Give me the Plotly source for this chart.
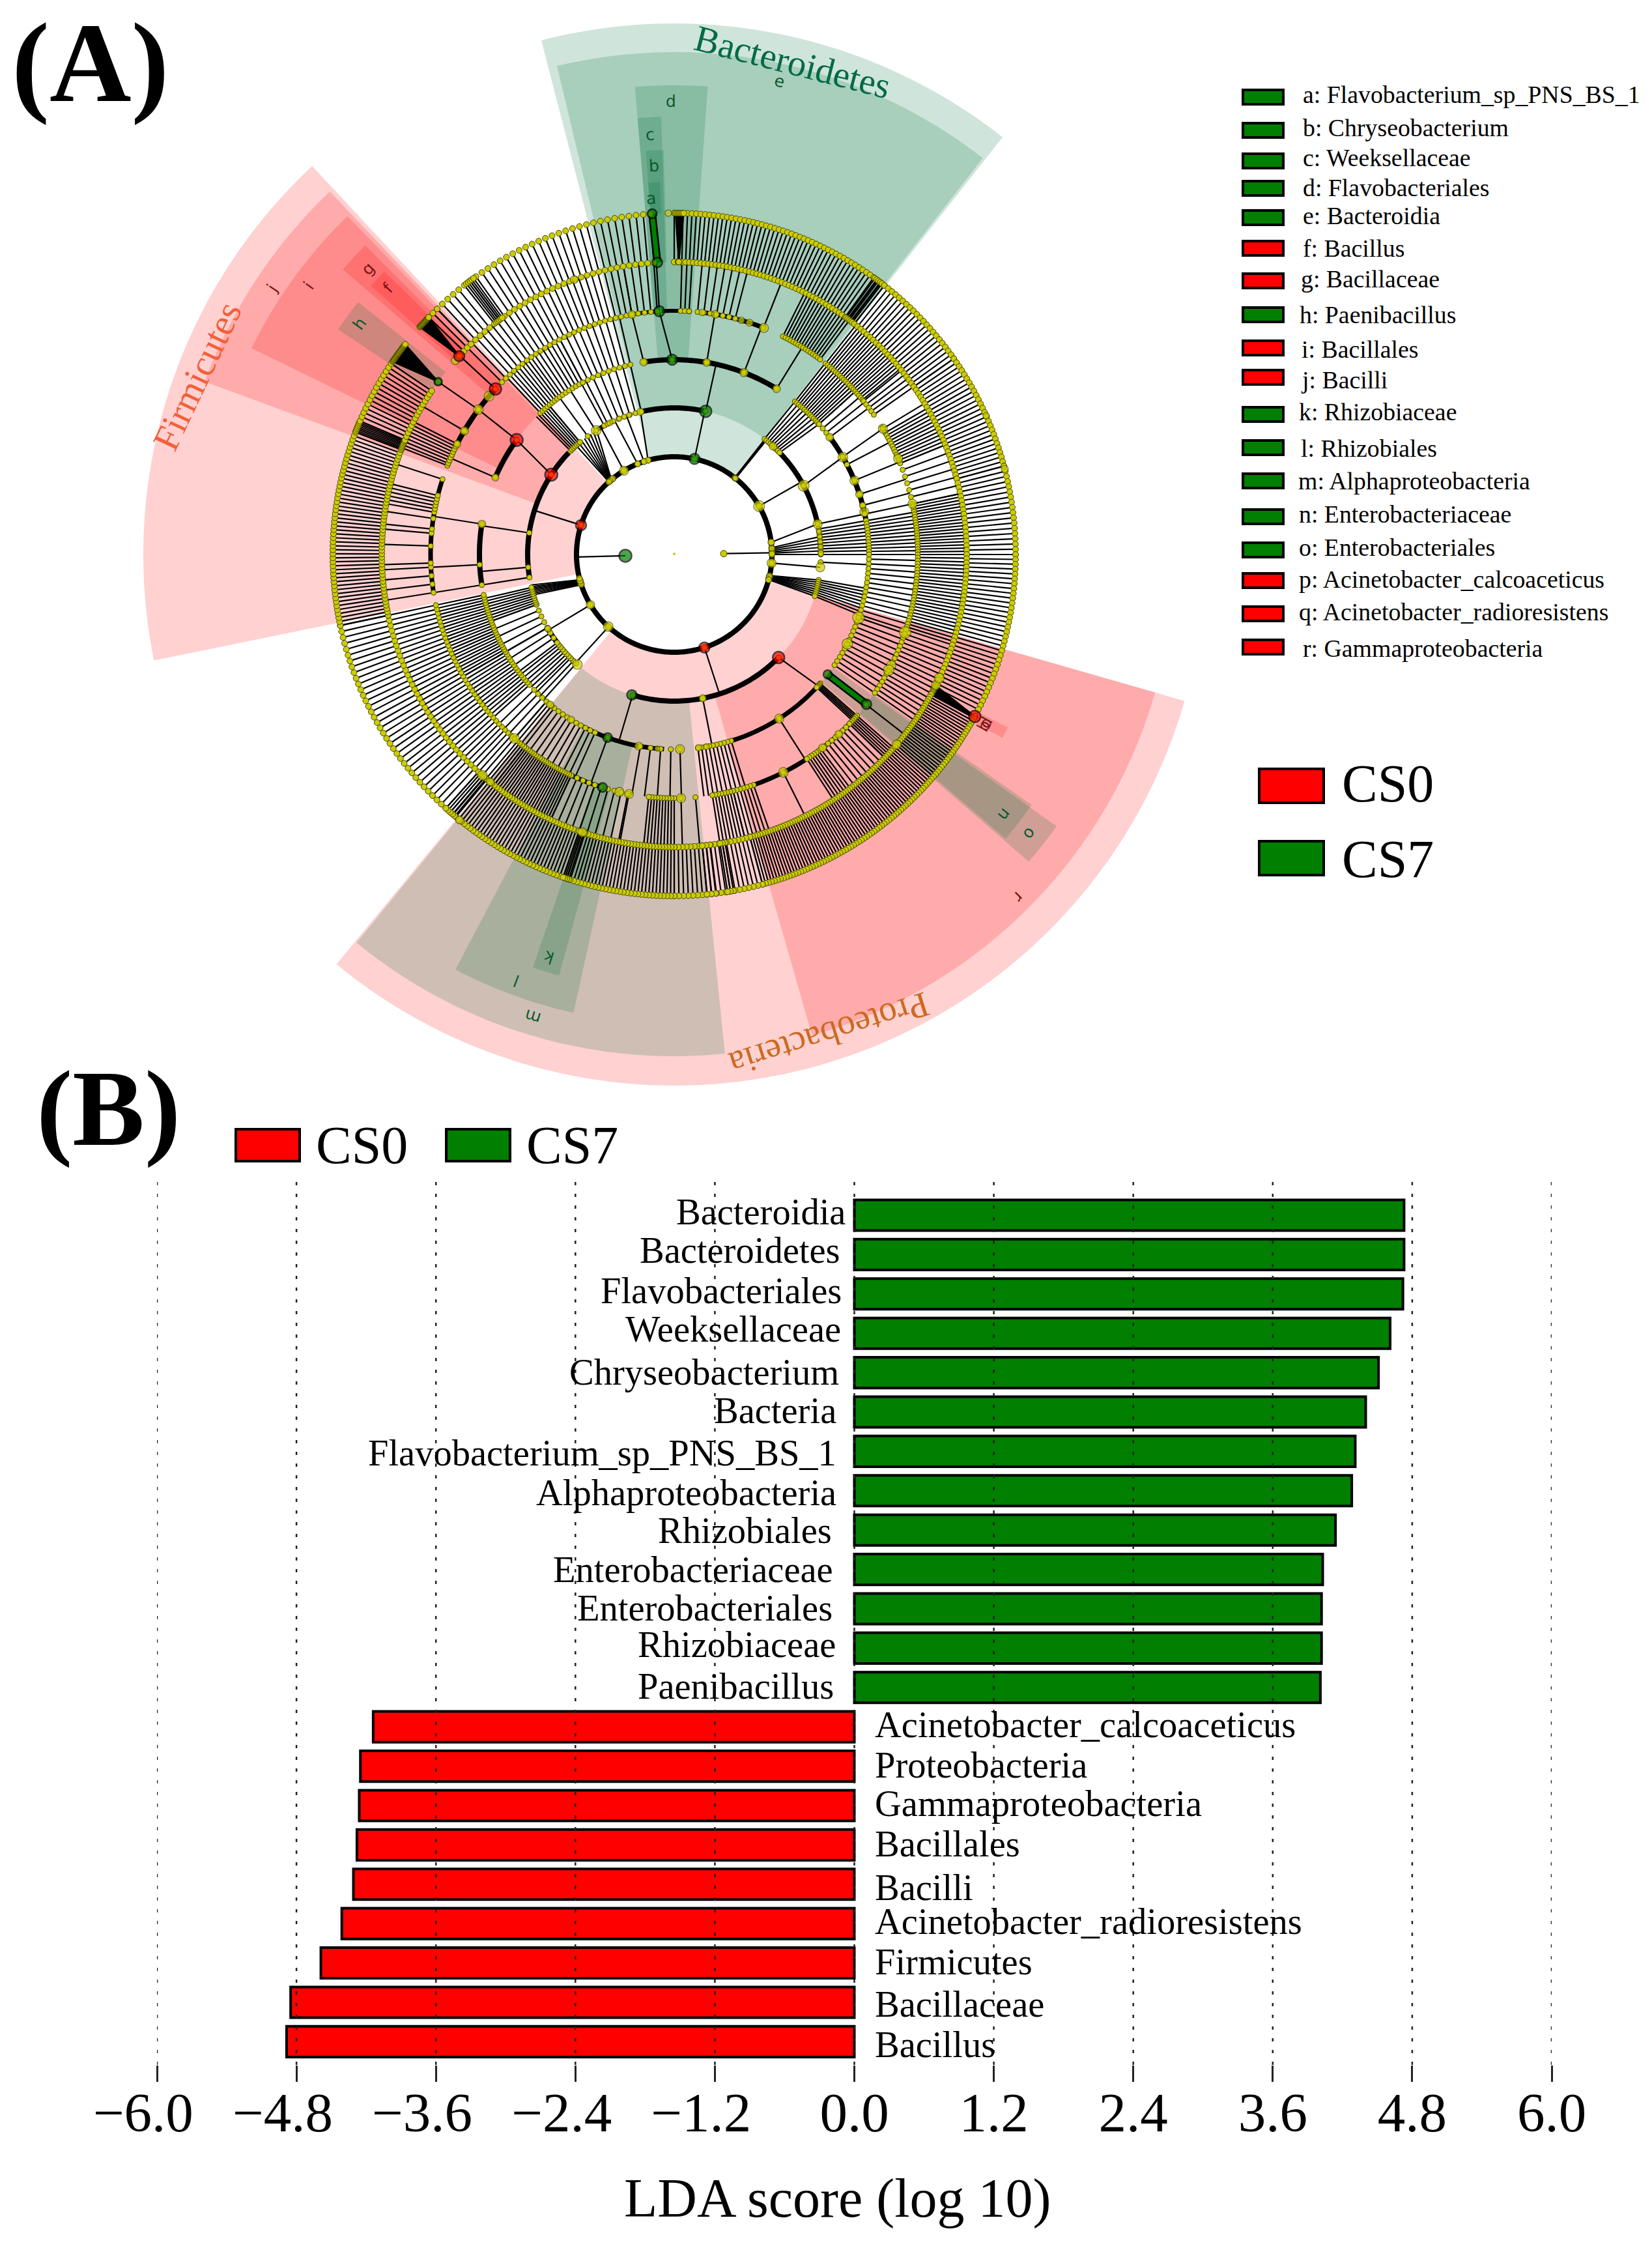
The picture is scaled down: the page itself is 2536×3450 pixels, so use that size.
import numpy as np
import plotly.graph_objects as go

W, H = 2536, 3450
SERIF = "Liberation Serif"
RED, GREEN = "#FF0000", "#007F00"

# ---------- panel B data ----------
taxa_cs7 = ["Bacteroidia", "Bacteroidetes", "Flavobacteriales", "Weeksellaceae", "Chryseobacterium",
            "Bacteria", "Flavobacterium_sp_PNS_BS_1", "Alphaproteobacteria", "Rhizobiales",
            "Enterobacteriaceae", "Enterobacteriales", "Rhizobiaceae", "Paenibacillus"]
lda_cs7 = [4.73, 4.73, 4.72, 4.61, 4.51, 4.40, 4.31, 4.28, 4.14, 4.03, 4.02, 4.02, 4.01]
taxa_cs0 = ["Acinetobacter_calcoaceticus", "Proteobacteria", "Gammaproteobacteria", "Bacillales", "Bacilli",
            "Acinetobacter_radioresistens", "Firmicutes", "Bacillaceae", "Bacillus"]
lda_cs0 = [-4.14, -4.25, -4.26, -4.28, -4.31, -4.41, -4.59, -4.85, -4.885]
tick_values = [-6.0, -4.8, -3.6, -2.4, -1.2, 0.0, 1.2, 2.4, 3.6, 4.8, 6.0]
tick_labels = ["\u22126.0\u2002", "\u22124.8\u2002", "\u22123.6\u2002", "\u22122.4\u2002", "\u22121.2\u2002",
               "0.0", "1.2", "2.4", "3.6", "4.8", "6.0"]

# hand placement of the labels in the original figure (px from the zero line / row centre)
label_dx_cs7 = [-12, -21, -18, -19, -22, -25.5, -25.5, -25.5, -33, -30.4, -32, -27, -30]
label_dy_cs7 = [-5, -6.4, -4.8, -5.7, -0.6, -2, 2.6, 3.2, 0.8, 0.4, -1, -5.4, -1.8]
label_dy_cs0 = [-3.2, -1.6, -3, -1.4, 5.2, -3.2, -1.6, 3, 4.6]

# ---------- panel A legend ----------
clade_letters = list("abcdefghijklmnopqr")
clade_names = ["Flavobacterium_sp_PNS_BS_1", "Chryseobacterium", "Weeksellaceae", "Flavobacteriales", "Bacteroidia",
               "Bacillus", "Bacillaceae", "Paenibacillus", "Bacillales", "Bacilli", "Rhizobiaceae", "Rhizobiales",
               "Alphaproteobacteria", "Enterobacteriaceae", "Enterobacteriales", "Acinetobacter_calcoaceticus",
               "Acinetobacter_radioresistens", "Gammaproteobacteria"]
clade_groups = ["CS7", "CS7", "CS7", "CS7", "CS7", "CS0", "CS0", "CS7", "CS0", "CS0", "CS7", "CS7", "CS7", "CS7", "CS7",
                "CS0", "CS0", "CS0"]

# ---------- panel A tree: radius of each taxonomic level ----------
level_radius = [75, 150, 225, 299, 374, 449, 524]

# shaded clades: label, inner radius, outer radius, start/end angle (deg clockwise from top), group
shaded_clades = [
    ("Bacteroidetes", 150, 815, 345.5, 398.2, "CS7"), ("Firmicutes", 150, 815, 258.5, 317, "CS0"),
    ("Proteobacteria", 150, 815, 106, 219.5, "CS0"),
    ("e", 225, 771, 346.5, 397.9, "CS7"), ("d", 299, 720, 355.2, 364.1, "CS7"), ("c", 374, 672, 355.2, 358.3, "CS7"),
    ("b", 449, 621, 356, 358.5, "CS7"), ("a", 524, 572, 356, 357.8, "CS7"),
    ("j", 225, 768, 290.2, 316.5, "CS0"), ("i", 299, 722, 296, 316, "CS0"), ("g", 374, 671, 310.7, 315, "CS0"),
    ("f", 449, 622, 311.5, 314.3, "CS0"), ("h", 449, 621, 303.8, 308.6, "CS7"),
    ("r", 225, 768, 106, 164, "CS0"), ("m", 225, 770, 174.2, 219.3, "CS7"), ("l", 299, 720, 192.4, 207.8, "CS7"),
    ("k", 374, 670, 195.3, 198.9, "CS7"), ("o", 299, 720, 125.4, 130.9, "CS7"), ("n", 374, 670, 125, 130.6, "CS7"),
    ("pq", 524, 577, 117.4, 119.2, "CS0"),
]

# branch bundles per gap between levels: (from, to, count) or (from_in, to_in, from_out, to_out, count)
branches_L0 = [(268.5, 268.5, 1), (89, 89, 1)]
branches_L1 = [(12, 12, 1), (38.2, 38.9, 4), (60.3, 60.3, 1), (82.8, 82.8, 78, 78, 1), (86, 90, 83, 90, 6), (95, 95, 1),
               (102.5, 105, 100, 106.5, 8), (162, 162, 1), (222.3, 222.3, 1), (239, 239, 1),
               (252, 255, 254, 258, 7), (287.5, 287.5, 1), (318, 320, 318, 328, 8), (329, 329, 330, 330, 1),
               (338, 338, 336, 336, 1), (342, 342, 341, 341, 1), (344.5, 344.5, 346.7, 346.7, 1)]
branches_L2 = [(12.4, 12.4, 1), (38, 46, 38.3, 48, 9), (62, 62, 60, 60, 1), (78, 78, 1), (80, 90, 10), (93, 93, 1),
               (100, 106.5, 100, 108, 9), (134.6, 134.6, 132.4, 132.4, 1), (168.8, 168.8, 1), (196.5, 196.5, 1),
               (222, 225, 3), (226, 232, 6), (233, 240, 4), (240, 250, 5), (250, 257, 9), (261, 261, 1),
               (265, 265, 1), (278.5, 278.5, 1), (303, 303, 306, 306, 1), (315, 320, 7), (320, 331.5, 4),
               (333, 347, 7)]
branches_L3 = [(359.4, 359.4, 356.5, 356.5, 1), (351, 351, 350, 350, 1), (9.6, 9.6, 1), (21, 21, 1), (31.7, 31.7, 1),
               (38.3, 48, 14), (48, 53, 4), (59.9, 59.9, 58.9, 58.9, 1), (62.5, 62.5, 1), (67.7, 67.7, 1),
               (72, 72, 1), (75.4, 75.4, 1), (78, 78, 1), (80, 90, 12), (90, 108, 14), (108.9, 124.6, 12),
               (131.4, 133, 5), (147.4, 147.4, 1), (163, 173, 10), (178.3, 178.3, 1), (181, 190, 4), (200, 200, 1),
               (204, 218, 10), (219, 221, 3), (221, 226, 4), (228, 240, 14), (240, 258, 24), (261, 261, 1),
               (267, 267, 1), (279, 279, 1), (293.3, 293.3, 1), (306, 306, 306.5, 306.5, 1), (316.6, 324, 9),
               (325, 332, 7), (332, 347, 10)]
branches_L4 = [(356.5, 356.5, 1), (315, 350, 28), (350, 356, 5), (1.5, 3.5, 3), (5.5, 14.5, 7), (21.5, 21.5, 1),
               (26.5, 36.8, 16), (38.4, 50.6, 20), (51, 55, 5), (58.9, 58.9, 1), (60, 68, 12), (68, 78, 7),
               (78, 90, 20), (90, 108, 26), (109, 124.6, 16), (128, 128, 1), (131.4, 134, 6), (134, 142, 8),
               (143, 147, 7), (153.4, 153.4, 1), (161, 166, 7), (166, 171, 8), (175, 175, 1), (178.4, 178.4, 1),
               (180, 186, 10), (190.7, 190.7, 1), (191, 199, 6), (199, 205, 5), (205, 218, 24), (218, 220, 4),
               (221, 258, 38), (261, 261, 1), (263, 263, 1), (265, 265, 1), (267, 267, 1), (268, 268, 1),
               (272, 272, 1), (275, 275, 1), (276, 276, 1), (278.5, 278.5, 1), (280, 284, 6), (288, 288, 1),
               (291.4, 291.4, 1), (292, 297, 8), (300.5, 300.5, 1), (306.5, 306.5, 306.2, 306.2, 1),
               (312.8, 312.8, 1)]
branches_L5 = [(0, 38, 52), (0.9, 0.9, 0.2, 1.6, 7), (36, 37.5, 5), (38, 55, 22), (55, 75, 26), (75, 90, 18),
               (90, 117, 34), (116.6, 118.6, 118.3, 118.3, 8), (118.6, 165, 90), (165, 180, 20), (170, 171, 3),
               (173, 174.5, 3), (180, 221, 68), (198, 199, 4), (220, 222, 5), (222, 258, 36), (258, 291, 50),
               (291, 293, 8), (293, 304, 15), (306.2, 306.2, 304.4, 308, 26), (312.7, 312.7, 311.8, 314, 18),
               (314, 316, 3), (316, 356, 34), (322.5, 324, 5)]
branch_tables = [branches_L0, branches_L1, branches_L2, branches_L3, branches_L4, branches_L5]

# thick connecting arcs: level, from, to, width
thick_arcs = [(1, 0, 360, 8), (2, 42, 78, 8), (2, 134.6, 196.8, 8), (2, 221.4, 239.5, 8), (2, 261, 314, 8),
              (2, 346.7, 372.4, 8), (2, 328, 335, 7), (3, 351, 391.7, 8), (3, 53, 80, 8), (3, 132, 172.8, 7),
              (3, 183, 208, 7), (3, 261, 279, 8), (3, 293.3, 306, 8), (4, 350, 363.5, 6), (4, 6.6, 21.6, 7),
              (4, 58, 66.8, 7), (4, 132, 161.2, 7), (4, 197, 205, 7), (4, 261, 288, 7), (4, 291.6, 313, 8),
              (4, 108.6, 118.3, 4)]

# enriched green branches: inner level, angle in, angle out
marked_branches = [(5, 356.7, 356.3), (3, 128, 127.9)]

# larger yellow nodes: level -> (angle, size)
large_nodes = {
    1: [(38.6, 8), (60.3, 17), (82.8, 10), (86.5, 9), (89.5, 9), (95, 14), (103, 10), (105, 9), (222.5, 15), (239, 13),
        (252.5, 10), (254.5, 10), (256, 9), (344.5, 9), (342, 9), (338, 9), (329, 14), (321, 10), (319, 9), (318, 9)],
    2: [(42.4, 12), (62, 17), (78, 14), (81, 8), (83, 8), (85, 8), (87, 8), (89.5, 9), (95, 14), (168.8, 11),
        (221.4, 15), (239.5, 10), (346.7, 11), (327.8, 15), (334, 9), (342, 8), (338, 8)],
    3: [(9.6, 12), (21, 13), (31.7, 12), (351, 12), (53, 12), (60, 15), (67.7, 14), (72, 12), (75.4, 10), (77.4, 14),
        (108.9, 18), (117.3, 16), (147.4, 14), (172.8, 10), (178.3, 14), (190.5, 12), (219.6, 11), (212, 11),
        (279, 12), (293.3, 11), (170.5, 9), (185, 8)],
    4: [(3.5, 8), (350, 12), (6.6, 10), (9.7, 12), (16, 10), (18, 11), (21.6, 14), (58.9, 14), (66.8, 14), (78, 14),
        (108.6, 18), (117, 14), (118.3, 16), (137.5, 12), (142.5, 12), (153.4, 15), (178.4, 14), (190.7, 14),
        (193, 14), (310.5, 15), (306.5, 15), (300.5, 13), (297, 11), (221, 15)],
    5: [(116.5, 14), (115, 15), (130.5, 14), (221, 15), (219, 12), (198.3, 14), (340, 12), (311.5, 12)],
    6: [(359, 10), (118, 6), (75.5, 11), (66, 10), (219, 12)],
}
# enriched nodes: level, angle, group, size
marked_nodes = [(0, 268.5, "CS7", 19), (1, 12, "CS7", 16), (1, 287.5, "CS0", 16), (1, 162, "CS0", 16),
                (2, 12.4, "CS7", 18), (2, 134.6, "CS0", 18), (2, 196.8, "CS7", 15), (2, 303, "CS0", 19),
                (3, 359.4, "CS7", 16), (3, 128, "CS7", 13), (3, 200, "CS7", 14), (3, 306, "CS0", 19),
                (4, 356.5, "CS7", 16), (4, 127.9, "CS7", 15), (4, 197.1, "CS7", 14), (4, 312.8, "CS0", 18),
                (5, 312.7, "CS0", 16), (5, 306.2, "CS7", 12), (5, 356.7, "CS7", 15),
                (6, 356.3, "CS7", 14), (6, 118.3, "CS0", 18)]

# clade letter labels: letter, radius, angle, group
clade_text = [("a", 548, 356.3, "CS7"), ("b", 597, 357, "CS7"), ("c", 646, 356.7, "CS7"), ("d", 696, 359.6, "CS7"),
              ("e", 744, 12.5, "CS7"), ("f", 600, 313, "CS0"), ("g", 643, 313, "CS0"), ("h", 599, 306.3, "CS7"),
              ("i", 696, 306.3, "CS0"), ("j", 741, 303.5, "CS0"), ("k", 647, 197.3, "CS7"), ("l", 697, 200.3, "CS7"),
              ("m", 742, 197, "CS7"), ("n", 645, 128.2, "CS7"), ("o", 694, 128.1, "CS7"), ("p", 547, 118.3, "CS0"),
              ("q", 547, 119.0, "CS0"), ("r", 745, 134.9, "CS0")]

# ---------- layout helpers ----------
CX, CY, PR = 1035, 851, 830


def paper_x(px):
    return px / W


def paper_y(py):
    return 1 - py / H


def polar_px(r, deg):
    t = np.radians(deg)
    return CX + r * np.sin(t), CY - r * np.cos(t)


def arc_angles(a, b):
    return np.append(np.arange(a, b, 1.0), b)


def expand(row):
    if len(row) == 3:
        a, b, n = row
        c, d = a, b
    else:
        a, b, c, d, n = row
    if n == 1:
        return [a], [c]
    return list(np.linspace(a, b, n)), list(np.linspace(c, d, n))


fig = go.Figure()
polar_args = dict(subplot="polar", hoverinfo="skip", showlegend=False)

# wedges
wedge_fill = {"CS0": "rgba(255,0,0,0.18)", "CS7": "rgba(0,110,60,0.19)"}
for name, ra, rb, a, b, grp in shaded_clades:
    th = arc_angles(a, b)
    fig.add_trace(go.Scatterpolar(
        r=list(np.full(th.size, rb)) + list(np.full(th.size, ra)) + [rb],
        theta=list(th) + list(th[::-1]) + [th[0]],
        mode="lines", fill="toself", fillcolor=wedge_fill[grp], line=dict(width=0), name=name, **polar_args))

# branches
spoke_r, spoke_t = [], []
node_r = {i: [] for i in range(7)}
node_t = {i: [] for i in range(7)}
for level, table in enumerate(branch_tables):
    for row in table:
        inner, outer = expand(row)
        for ti, to in zip(inner, outer):
            spoke_r += [level_radius[level], level_radius[level + 1], None]
            spoke_t += [ti, to, None]
            if level > 0:
                node_r[level].append(level_radius[level])
                node_t[level].append(ti)
            if level == 5:
                node_r[6].append(level_radius[6])
                node_t[6].append(to)
fig.add_trace(go.Scatterpolar(r=spoke_r, theta=spoke_t, mode="lines", line=dict(color="black", width=2.2),
                              name="branches", **polar_args))

# thick arcs
for level, a, b, width in thick_arcs:
    th = arc_angles(a, b)
    fig.add_trace(go.Scatterpolar(r=np.full(th.size, level_radius[level]), theta=th, mode="lines",
                                  line=dict(color="black", width=width), name="arc", **polar_args))

# enriched branches
for level, ti, to in marked_branches:
    rr = [level_radius[level], level_radius[level + 1]]
    fig.add_trace(go.Scatterpolar(r=rr, theta=[ti, to], mode="lines", line=dict(color="black", width=12),
                                  name="marked", **polar_args))
    fig.add_trace(go.Scatterpolar(r=rr, theta=[ti, to], mode="lines", line=dict(color=GREEN, width=7),
                                  name="marked", **polar_args))

# nodes
YELLOW = "#CCCC00"
NODE_EDGE = "#444400"
small_size = {1: 9, 2: 8, 3: 8, 4: 8, 5: 9, 6: 9}
for level in range(1, 7):
    fig.add_trace(go.Scatterpolar(
        r=node_r[level], theta=node_t[level], mode="markers", name="nodes",
        marker=dict(size=small_size[level], color=YELLOW, line=dict(color=NODE_EDGE, width=1)), **polar_args))
fig.add_trace(go.Scatterpolar(r=[level_radius[0] + 1], theta=[89], mode="markers", name="Archaea",
                              marker=dict(size=10, color=YELLOW, line=dict(color=NODE_EDGE, width=1)), **polar_args))
fig.add_trace(go.Scatterpolar(r=[1], theta=[0], mode="markers", name="root",
                              marker=dict(size=4, color=YELLOW, line=dict(width=0)), **polar_args))
for level, items in large_nodes.items():
    fig.add_trace(go.Scatterpolar(
        r=[level_radius[level]] * len(items), theta=[i[0] for i in items], mode="markers", name="large",
        marker=dict(size=[i[1] for i in items], color=YELLOW, line=dict(color=NODE_EDGE, width=1.2)), **polar_args))
fig.add_trace(go.Scatterpolar(
    r=[level_radius[m[0]] for m in marked_nodes], theta=[m[1] for m in marked_nodes], mode="markers", name="marked",
    marker=dict(size=[m[3] for m in marked_nodes], color=[RED if m[2] == "CS0" else GREEN for m in marked_nodes],
                line=dict(color="black", width=2.5)), **polar_args))

# bars
categories = taxa_cs7 + taxa_cs0
fig.add_trace(go.Bar(y=taxa_cs7, x=lda_cs7, orientation="h", width=0.78, name="CS7", hoverinfo="skip",
                     marker=dict(color=GREEN, line=dict(color="black", width=4)), showlegend=False))
fig.add_trace(go.Bar(y=taxa_cs0, x=lda_cs0, orientation="h", width=0.78, name="CS0", hoverinfo="skip",
                     marker=dict(color=RED, line=dict(color="black", width=4)), showlegend=False))

shapes, annotations = [], []


def text(px, py, s, size, color="black", font=SERIF, anchor="center", angle=0, bold=False):
    annotations.append(dict(xref="paper", yref="paper", x=paper_x(px), y=paper_y(py), text=f"<b>{s}</b>" if bold else s,
                            showarrow=False, xanchor=anchor, yanchor="middle", textangle=angle,
                            font=dict(family=font, size=size, color=color), borderpad=0, borderwidth=0))


def swatch(x0, y0, x1, y1, color, lw):
    shapes.append(dict(type="rect", xref="paper", yref="paper", x0=paper_x(x0), x1=paper_x(x1),
                       y0=paper_y(y0), y1=paper_y(y1), fillcolor=color, line=dict(color="black", width=lw)))


# dotted grid
for tv in tick_values:
    shapes.append(dict(type="line", xref="x", yref="y domain", x0=tv, x1=tv, y0=0, y1=1, layer="above",
                       line=dict(color="#222222", width=2.5, dash="5px,13px")))

# bar labels
for name, dx, dy in zip(taxa_cs7, label_dx_cs7, label_dy_cs7):
    annotations.append(dict(xref="x", yref="y", x=0, y=name, text=name, showarrow=False, xanchor="right",
                            yanchor="middle", xshift=dx, yshift=-dy, font=dict(family=SERIF, size=56.5, color="black")))
for name, dy in zip(taxa_cs0, label_dy_cs0):
    annotations.append(dict(xref="x", yref="y", x=0, y=name, text=name, showarrow=False, xanchor="left",
                            yanchor="middle", xshift=29, yshift=-dy, font=dict(family=SERIF, size=56.5, color="black")))

# axis title
text(1286, 3374, "LDA score (log 10)", 84)

# panel letters
text(139, 97, "(A)", 174, bold=True)
text(166, 1701, "(B)", 166, bold=True)

# panel B legend
swatch(362, 1733, 460, 1782, RED, 4)
swatch(685, 1733, 783, 1782, GREEN, 4)
text(485, 1757, "CS0", 82, anchor="left")
text(808, 1757, "CS7", 82, anchor="left")

# panel A legend
legend_swatch_y = [149, 200, 247, 289, 334, 381, 431, 483, 534, 579, 636, 687, 738, 793, 844, 891, 942, 993]
legend_text_y = [145, 196, 242, 288, 331, 381, 428, 483, 536, 583, 632, 688, 738, 789, 840, 889, 939, 995]
legend_text_x = [2000, 2000, 2000, 2000, 2000, 2000, 1997, 1995, 1998, 1997, 1994, 1997, 1993, 1994, 1994, 1994, 1994, 2000]
for letter, nm, grp, sy, ty, tx in zip(clade_letters, clade_names, clade_groups, legend_swatch_y, legend_text_y, legend_text_x):
    swatch(1908, sy - 11, 1970, sy + 11, RED if grp == "CS0" else GREEN, 4)
    text(tx, ty, f"{letter}: {nm}", 37.8, anchor="left")
swatch(1933, 1180, 2032, 1232, RED, 4)
swatch(1933, 1291, 2032, 1343, GREEN, 4)
text(2060, 1202, "CS0", 82, anchor="left")
text(2060, 1318, "CS7", 82, anchor="left")

# phylum names
text(1216, 95, "Bacteroidetes", 56.5, "#006B46", angle=14.3)
text(303, 577, "Firmicutes", 57, "#F2603A", angle=-64.7)
text(1273, 1588, "Proteobacteria", 55, "#CC6A22", angle=162.5)

# clade letters on the cladogram
letter_color = {"CS0": "#7A1414", "CS7": "#0B5A2E"}
for letter, r, deg, grp in clade_text:
    px, py = polar_px(r, deg)
    text(px, py, letter, 25, letter_color[grp], font="DejaVu Sans", angle=deg if deg <= 180 else deg - 360)

fig.update_layout(
    width=W, height=H, margin=dict(l=0, r=0, t=0, b=0, autoexpand=False), paper_bgcolor="white", plot_bgcolor="white",
    barmode="overlay", font=dict(family=SERIF, color="black"), showlegend=False,
    polar=dict(domain=dict(x=[(CX - PR) / W, (CX + PR) / W], y=[1 - (CY + PR) / H, 1 - (CY - PR) / H]),
               bgcolor="rgba(0,0,0,0)",
               radialaxis=dict(visible=False, range=[0, PR]),
               angularaxis=dict(visible=False, direction="clockwise", rotation=90)),
    xaxis=dict(domain=[241 / W, 2382 / W], range=[-6, 6], tickvals=tick_values, ticktext=tick_labels, ticks="outside",
               ticklen=25, tickwidth=2.5, tickcolor="#222222", showgrid=False, zeroline=False, showline=False,
               automargin=False, tickfont=dict(family=SERIF, size=85), ticklabelstandoff=-26),
    yaxis=dict(domain=[1 - 3169 / H, 1 - 1804 / H], type="category", categoryorder="array", categoryarray=categories,
               automargin=False, range=[21.59, -1.01], showticklabels=False, ticks="", showgrid=False, zeroline=False,
               showline=False),
    shapes=shapes, annotations=annotations,
)
fig.write_html("out.html", post_script="document.body.style.margin='0';", config=dict(displayModeBar=False))
